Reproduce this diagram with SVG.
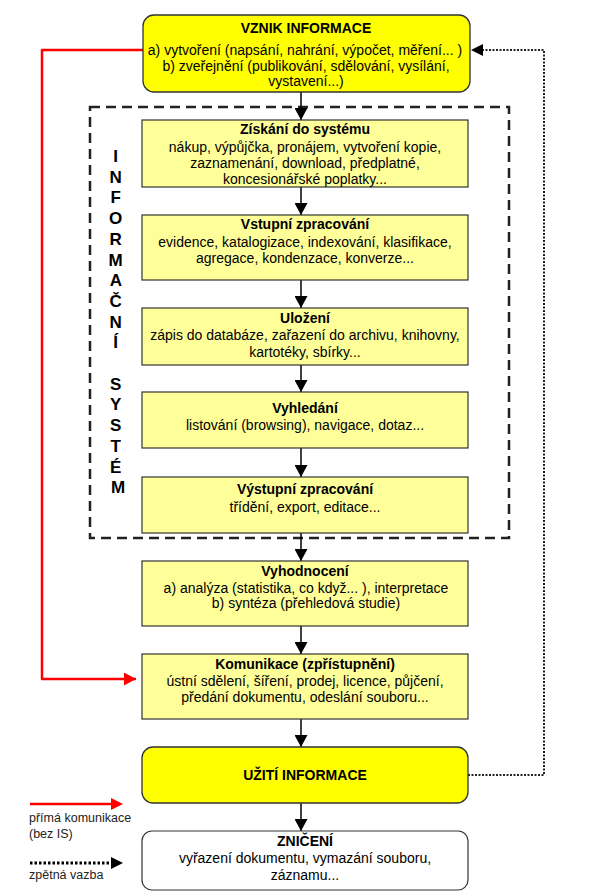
<svg xmlns="http://www.w3.org/2000/svg" width="605" height="896" viewBox="0 0 605 896">
<style>
  .bx{fill:#FFFF99;stroke:#333;stroke-width:1.2}
  .hl{fill:#FFFF00;stroke:#333;stroke-width:1.3}
  .wh{fill:#FFFFFF;stroke:#333;stroke-width:1.2}
  text{font-family:"Liberation Sans",Arial,sans-serif;fill:#000;text-anchor:middle}
  .t{font-size:14px;font-weight:bold}
  .b{font-size:14px}
  .side{font-size:17px;font-weight:bold}
  .lg{font-size:12.5px;text-anchor:start;fill:#222}
  .arr{stroke:#000;stroke-width:1.5;fill:none;marker-end:url(#ah)}
  .red{stroke:#FF0000;stroke-width:2.5;fill:none;stroke-linejoin:round}
  .dot{stroke:#222;stroke-width:2;stroke-dasharray:2 1.5;fill:none}
  .dotlg{stroke:#000;stroke-width:3;stroke-dasharray:2.5 2;fill:none}
</style>
<defs>
  <marker id="ah" markerUnits="userSpaceOnUse" markerWidth="13" markerHeight="13" refX="12" refY="6.5" orient="auto">
    <path d="M0,0 L12,6.5 L0,13 z" fill="#000"/>
  </marker>
  <marker id="ahr" markerUnits="userSpaceOnUse" markerWidth="13" markerHeight="13" refX="12" refY="6.5" orient="auto">
    <path d="M0,0 L12,6.5 L0,13 z" fill="#FF0000"/>
  </marker>
</defs>

<g id="is-frame">
  <rect x="90" y="107" width="419" height="431" fill="none" stroke="#222" stroke-width="2.5" stroke-dasharray="10 6"/>
  <text class="side" x="118">
    <tspan x="118" y="162">I</tspan>
    <tspan x="118" dy="20.7">N</tspan>
    <tspan x="118" dy="20.7">F</tspan>
    <tspan x="118" dy="20.7">O</tspan>
    <tspan x="118" dy="20.7">R</tspan>
    <tspan x="118" dy="20.7">M</tspan>
    <tspan x="118" dy="20.7">A</tspan>
    <tspan x="118" dy="20.7">Č</tspan>
    <tspan x="118" dy="20.7">N</tspan>
    <tspan x="118" dy="20.7">Í</tspan>
    <tspan x="118" dy="41.4">S</tspan>
    <tspan x="118" dy="20.7">Y</tspan>
    <tspan x="118" dy="20.7">S</tspan>
    <tspan x="118" dy="20.7">T</tspan>
    <tspan x="118" dy="20.7">É</tspan>
    <tspan x="118" dy="20.7">M</tspan>
  </text>
</g>

<g id="connectors">
  <line class="arr" x1="301" y1="92" x2="301" y2="120"/>
  <line class="arr" x1="301" y1="187" x2="301" y2="215"/>
  <line class="arr" x1="301" y1="280" x2="301" y2="308"/>
  <line class="arr" x1="301" y1="365" x2="301" y2="392"/>
  <line class="arr" x1="301" y1="448" x2="301" y2="477"/>
  <line class="arr" x1="301" y1="533" x2="301" y2="561"/>
  <line class="arr" x1="301" y1="626" x2="301" y2="654"/>
  <line class="arr" x1="301" y1="719" x2="301" y2="747"/>
  <line class="arr" x1="301" y1="803" x2="301" y2="831"/>
  <path class="red" d="M143,50 L42,50 L42,679 L136,679" marker-end="url(#ahr)"/>
  <path class="dot" d="M468,775 L544,775 L544,50 L482,50"/>
  <path d="M471,50 L483,44 L483,56 z" fill="#000"/>
</g>

<g id="vznik">
  <rect class="hl" x="143" y="15" width="327" height="77" rx="11"/>
  <text class="t" x="306" y="33">VZNIK INFORMACE</text>
  <text class="b" x="305" y="55">a) vytvoření (napsání, nahrání, výpočet, měření... )</text>
  <text class="b" x="306" y="71">b) zveřejnění (publikování, sdělování, vysílání,</text>
  <text class="b" x="306" y="86">vystavení...)</text>
</g>

<g id="ziskani">
  <rect class="bx" x="142" y="120" width="326" height="67"/>
  <text class="t" x="305" y="134">Získání do systému</text>
  <text class="b" x="305" y="152">nákup, výpůjčka, pronájem, vytvoření kopie,</text>
  <text class="b" x="305" y="168">zaznamenání, download, předplatné,</text>
  <text class="b" x="305" y="184">koncesionářské poplatky...</text>
</g>

<g id="vstupni">
  <rect class="bx" x="142" y="215" width="326" height="65"/>
  <text class="t" x="305" y="229">Vstupní zpracování</text>
  <text class="b" x="305" y="247">evidence, katalogizace, indexování, klasifikace,</text>
  <text class="b" x="305" y="263">agregace, kondenzace, konverze...</text>
</g>

<g id="ulozeni">
  <rect class="bx" x="142" y="308" width="326" height="57"/>
  <text class="t" x="305" y="323">Uložení</text>
  <text class="b" x="305" y="340">zápis do databáze, zařazení do archivu, knihovny,</text>
  <text class="b" x="305" y="357">kartotéky, sbírky...</text>
</g>

<g id="vyhledani">
  <rect class="bx" x="142" y="392" width="326" height="56"/>
  <text class="t" x="305" y="413">Vyhledání</text>
  <text class="b" x="305" y="430">listování (browsing), navigace, dotaz...</text>
</g>

<g id="vystupni">
  <rect class="bx" x="142" y="477" width="326" height="56"/>
  <text class="t" x="305" y="494">Výstupní zpracování</text>
  <text class="b" x="305" y="512">třídění, export, editace...</text>
</g>

<g id="vyhodnoceni">
  <rect class="bx" x="142" y="561" width="326" height="65"/>
  <text class="t" x="305" y="576">Vyhodnocení</text>
  <text class="b" x="306" y="593">a) analýza (statistika, co když... ), interpretace</text>
  <text class="b" x="306" y="608">b) syntéza (přehledová studie)</text>
</g>

<g id="komunikace">
  <rect class="bx" x="142" y="654" width="326" height="65"/>
  <text class="t" x="305" y="669">Komunikace (zpřístupnění)</text>
  <text class="b" x="305" y="686">ústní sdělení, šíření, prodej, licence, půjčení,</text>
  <text class="b" x="305" y="702">předání dokumentu, odeslání souboru...</text>
</g>

<g id="uziti">
  <rect class="hl" x="142" y="747" width="326" height="56" rx="11"/>
  <text class="t" x="305" y="780">UŽITÍ INFORMACE</text>
</g>

<g id="zniceni">
  <rect class="wh" x="142" y="831" width="326" height="59" rx="10"/>
  <text class="t" x="305" y="846">ZNIČENÍ</text>
  <text class="b" x="305" y="863">vyřazení dokumentu, vymazání souboru,</text>
  <text class="b" x="305" y="880">záznamu...</text>
</g>

<g id="legend">
  <line x1="30" y1="804" x2="112" y2="804" stroke="#FF0000" stroke-width="2.5"/>
  <path d="M123,804 L111,798 L111,810 z" fill="#FF0000"/>
  <text class="lg" x="29" y="822">přímá komunikace</text>
  <text class="lg" x="29" y="838">(bez IS)</text>
  <line class="dotlg" x1="30" y1="863" x2="112" y2="863"/>
  <path d="M123,863 L111,857 L111,869 z" fill="#000"/>
  <text class="lg" x="29" y="879">zpětná vazba</text>
</g>
</svg>
